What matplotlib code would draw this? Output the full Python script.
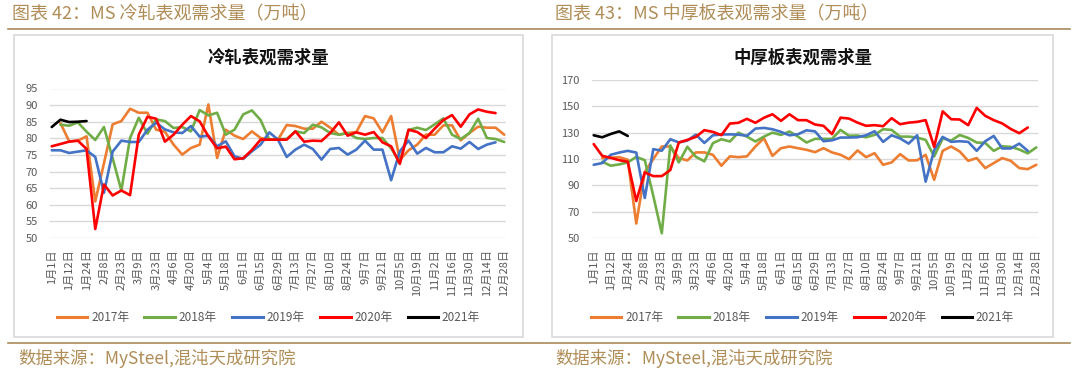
import numpy as np
import matplotlib
matplotlib.use("Agg")
import matplotlib.pyplot as plt
from matplotlib.patches import Rectangle
from matplotlib.lines import Line2D

plt.rcParams['font.family'] = ['Noto Sans CJK SC', 'DejaVu Sans']

nan = np.nan

# category labels (every second week is labelled)
week_labels = ['1月1日', '1月12日', '1月24日', '2月8日', '2月23日', '3月9日', '3月23日',
               '4月6日', '4月20日', '5月4日', '5月18日', '6月1日', '6月15日', '6月29日',
               '7月13日', '7月27日', '8月10日', '8月24日', '9月7日', '9月21日', '10月5日',
               '10月19日', '11月2日', '11月16日', '11月30日', '12月14日', '12月28日']
years = ['2017年', '2018年', '2019年', '2020年', '2021年']
colors = ['#ED7D31', '#70AD47', '#4472C4', '#FF0000', '#000000']

# 冷轧表观需求量 (万吨), weekly
cr_2017 = [nan, 84.6, 79.1, 79.3, 80.6, 61.0, 72.5, 84.2, 85.2, 88.9, 87.7, 87.7, 82.6, 82.0,
           78.1, 75.1, 77.1, 78.1, 90.2, 74.1, 82.6, 80.8, 79.8, 82.1, 80.1, 79.6, 79.6, 84.0,
           83.7, 82.9, 82.9, 85.0, 83.2, 81.1, 81.6, 81.9, 86.7, 86.0, 81.8, 86.7, 73.5, 76.4,
           78.1, 81.1, 81.1, 83.9, 83.9, 79.4, 81.6, 83.5, 83.2, 83.2, 81.1]
cr_2018 = [nan, 84.1, 83.8, 84.8, 82.0, 79.5, 83.4, 74.0, 64.3, 80.1, 86.2, 81.4, 85.7, 85.2,
           83.1, 83.4, 82.1, 88.5, 86.9, 87.7, 81.1, 82.6, 87.2, 88.4, 85.5, 79.6, 79.8, 79.8,
           82.1, 81.6, 84.1, 83.3, 81.6, 81.1, 81.6, 80.1, 79.8, 80.1, 80.1, 77.0, 72.8, 82.5,
           83.2, 82.5, 84.2, 86.0, 81.1, 79.8, 81.6, 85.9, 80.1, 79.8, 78.9]
cr_2019 = [76.4, 76.4, 75.6, 76.0, 76.4, 74.4, 63.6, 76.0, 79.3, 78.9, 78.9, 82.6, 84.7, 82.7,
           81.8, 81.6, 83.7, 80.5, 80.8, 77.6, 79.1, 74.6, 73.8, 76.1, 78.1, 81.8, 79.6, 74.4,
           76.6, 78.1, 76.8, 73.6, 76.8, 77.1, 75.1, 76.6, 79.3, 76.6, 76.6, 67.4, 76.1, 79.3,
           75.4, 77.1, 75.8, 75.8, 77.6, 76.9, 78.9, 76.8, 78.1, 78.8, nan]
cr_2020 = [77.6, 78.3, 79.0, 79.3, 76.8, 52.7, 66.1, 62.8, 64.3, 62.9, 81.1, 86.5, 85.9, 79.0,
           81.1, 84.1, 86.7, 85.1, 80.6, 77.0, 77.5, 73.7, 74.0, 76.5, 79.6, 79.6, 79.6, 79.6,
           82.1, 79.0, 79.3, 79.2, 81.6, 84.8, 80.8, 81.8, 81.1, 81.9, 78.8, 77.6, 72.3, 82.6,
           81.9, 80.1, 82.9, 85.5, 87.0, 83.5, 87.2, 88.7, 88.0, 87.6, nan]
cr_2021 = [83.4, 85.6, 84.9, 85.0, 85.2]

# 中厚板表观需求量 (万吨), weekly
hp_2017 = [nan, 110.7, 110.9, 111.4, 109.4, 61.0, 100.0, 110.0, 119.5, 119.5, 110.7, 108.9,
           115.0, 115.0, 113.2, 104.9, 112.0, 111.4, 112.0, 119.5, 125.8, 112.4, 118.2, 119.5,
           118.2, 117.0, 115.2, 118.2, 115.0, 113.2, 109.9, 116.5, 111.4, 114.4, 105.6, 107.4,
           113.7, 108.9, 109.0, 113.2, 94.2, 116.2, 119.5, 115.7, 108.6, 110.7, 103.1, 106.9,
           110.7, 108.6, 103.1, 102.3, 105.6]
hp_2018 = [nan, 107.9, 104.9, 105.9, 107.4, 111.6, 109.1, 82.0, 53.6, 120.3, 107.4, 119.3,
           111.7, 108.2, 122.0, 125.0, 123.3, 130.0, 127.0, 123.3, 127.0, 130.0, 128.3, 130.9,
           127.0, 122.5, 125.3, 125.3, 125.3, 132.1, 127.6, 127.8, 126.5, 128.3, 132.6, 132.1,
           127.0, 127.0, 126.3, 124.5, 111.9, 125.6, 124.0, 128.2, 126.0, 122.5, 122.2, 116.2,
           119.6, 119.2, 117.2, 114.3, 118.8]
hp_2019 = [105.6, 106.9, 113.2, 114.9, 116.2, 114.9, 80.4, 117.5, 116.3, 125.0, 122.6, 124.0,
           128.5, 122.2, 128.0, 128.6, 128.7, 128.5, 127.6, 133.1, 133.6, 132.6, 130.6, 128.0,
           128.8, 131.8, 131.0, 123.5, 124.2, 126.3, 126.3, 126.5, 128.0, 131.1, 123.0, 128.0,
           125.6, 121.7, 128.0, 92.8, 116.7, 126.8, 123.0, 123.5, 123.0, 116.2, 123.5, 127.5,
           118.0, 118.0, 121.7, 116.2, nan]
hp_2020 = [121.3, 112.4, 110.9, 109.1, 107.9, 78.1, 99.8, 97.0, 97.0, 101.6, 122.5, 124.5,
           126.8, 131.9, 130.6, 128.1, 136.9, 137.5, 140.5, 137.5, 141.3, 144.0, 139.0, 144.0,
           139.5, 139.5, 136.2, 135.2, 128.9, 141.4, 140.7, 137.6, 135.2, 135.7, 134.9, 141.0,
           136.4, 137.6, 138.2, 139.5, 119.2, 146.2, 140.2, 140.0, 135.7, 148.8, 142.8, 139.5,
           137.0, 132.8, 129.6, 133.9, nan]
hp_2021 = [128.0, 126.5, 129.0, 131.0, 127.5]

W, H = 1078, 373
gold = '#B08D57'
grey = '#595959'

fig = plt.figure(figsize=(W / 100, H / 100), dpi=100)


def frac_rect(x0, y0, x1, y1):
    # pixel box (y measured from the top) -> figure fraction rect
    return [x0 / W, 1 - y1 / H, (x1 - x0) / W, (y1 - y0) / H]


def panel(box, plot_box, title, series, ylim, yticks, legend_y):
    bx0, by0, bx1, by1 = box
    fig.patches.append(Rectangle((bx0 / W, 1 - by1 / H), (bx1 - bx0) / W, (by1 - by0) / H,
                                 transform=fig.transFigure, fill=False,
                                 edgecolor='#D9D9D9', lw=1.2))
    cx = (bx0 + bx1) / 2
    fig.text(cx / W, 1 - 58 / H, title, ha='center', va='center',
             fontsize=12.5, fontweight='bold', color='#111111')

    ax = fig.add_axes(frac_rect(*plot_box))
    for vals, c in zip(series, colors):
        ax.plot(np.arange(len(vals)), vals, color=c, lw=1.9,
                solid_joinstyle='round', solid_capstyle='round')
    ax.set_xlim(-0.2, 52.2)
    ax.set_ylim(*ylim)
    ax.set_yticks(yticks)
    ax.set_xticks(np.arange(0, 53, 2))
    ax.set_xticklabels(week_labels, rotation=90)
    ax.tick_params(axis='both', length=0, labelsize=8, labelcolor=grey)
    ax.tick_params(axis='y', pad=9)
    ax.tick_params(axis='x', pad=8)
    ax.grid(axis='y', color='#D9D9D9', lw=1)
    ax.set_axisbelow(True)
    for s in ax.spines.values():
        s.set_visible(False)

    handles = [Line2D([], [], color=c, lw=2.2) for c in colors]
    ax.legend(handles, years, loc='center', ncol=5, frameon=False,
              bbox_to_anchor=(cx / W, 1 - legend_y / H), bbox_transform=fig.transFigure,
              fontsize=8.5, labelcolor=grey, handlelength=2.6, handletextpad=0.3,
              columnspacing=1.3)
    return ax


panel((14, 35, 523, 337), (50, 88.5, 506, 238), '冷轧表观需求量',
      [cr_2017, cr_2018, cr_2019, cr_2020, cr_2021], (50, 95), np.arange(50, 96, 5), 318)
panel((552, 35, 1053, 337), (592, 80, 1038, 238), '中厚板表观需求量',
      [hp_2017, hp_2018, hp_2019, hp_2020, hp_2021], (50, 170), np.arange(50, 171, 20), 318)

# header titles and rules
fig.text(12 / W, 1 - 14 / H, '图表 42：MS 冷轧表观需求量（万吨）', ha='left', va='center',
         fontsize=13, color=gold)
fig.text(555 / W, 1 - 14 / H, '图表 43：MS 中厚板表观需求量（万吨）', ha='left', va='center',
         fontsize=13, color=gold)
fig.add_artist(Line2D([8 / W, 1070 / W], [1 - 29 / H, 1 - 29 / H], color='#A88A5A', lw=1.2))
fig.add_artist(Line2D([8 / W, 1070 / W], [1 - 343 / H, 1 - 343 / H], color='#A88A5A', lw=1.2))

# sources
fig.text(18 / W, 1 - 358 / H, '数据来源：MySteel,混沌天成研究院', ha='left', va='center',
         fontsize=12.5, color=gold)
fig.text(555 / W, 1 - 358 / H, '数据来源：MySteel,混沌天成研究院', ha='left', va='center',
         fontsize=12.5, color=gold)

fig.savefig('out.png', dpi=100)
